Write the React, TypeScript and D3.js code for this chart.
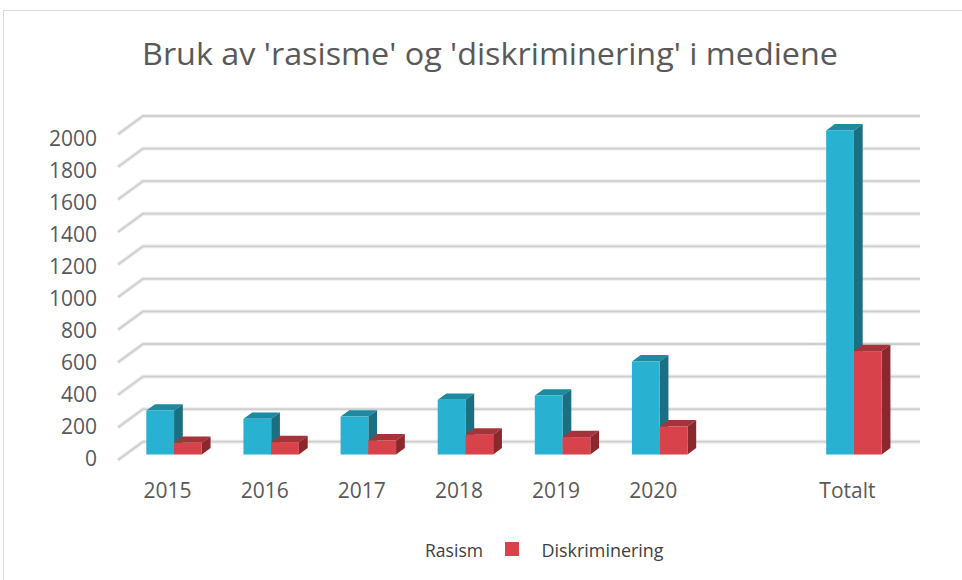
import { useEffect, useRef } from 'react';
import * as d3 from 'd3';

const categories = ['2015', '2016', '2017', '2018', '2019', '2020', '', 'Totalt'];
const series = ['Rasism', 'Diskriminering'];
const rasism = [270, 219, 233, 336, 362, 571, null, 1990];
const diskriminering = [72, 76, 86, 122, 107, 172, null, 635];
const yTicks = [0, 200, 400, 600, 800, 1000, 1200, 1400, 1600, 1800, 2000];
const title = "Bruk av 'rasisme' og 'diskriminering' i mediene";

const App = () => {
    const svgRef = useRef<SVGSVGElement>(null);

    useEffect(() => {
        const svg = d3.select(svgRef.current);
        svg.selectAll('*').remove();

        // oblique 3d: depth vector of the whole plot
        const depthX = 25, depthY = 18.3;
        const barD0 = 0.3, barD1 = 0.65;

        const xBand = d3.scaleBand().domain(categories).range([118, 895]).padding(0);
        const sub = d3.scaleBand().domain(series).range([0, xBand.bandwidth()]).paddingInner(0).paddingOuter(0.75);
        const yFront = d3.scaleLinear().domain([0, 2000]).range([460, 134.3]);
        const yLabel = d3.scaleLinear().domain([0, 2000]).range([458, 138]);

        // chart border
        svg.append('rect').attr('x', 3.5).attr('y', 10.5).attr('width', 970).attr('height', 580)
            .attr('fill', 'white').attr('stroke', '#d9d9d9').attr('stroke-width', 1);

        svg.append('text').attr('x', 490).attr('y', 65).attr('text-anchor', 'middle')
            .attr('font-family', 'Open Sans').attr('font-size', 31).attr('fill', '#595959')
            .attr('textLength', 696).attr('lengthAdjust', 'spacingAndGlyphs').text(title);

        // gridlines: left wall diagonal + back wall
        const grid = svg.append('g');
        const x0 = xBand.range()[0], x1 = xBand.range()[1];
        yTicks.forEach((v) => {
            const yf = yFront(v), yb = yFront(v) - depthY;
            const path = `M${x0},${yf}L${x0 + depthX},${yb}L${x1 + depthX},${yb}`;
            grid.append('path').attr('d', path).attr('fill', 'none').attr('stroke', '#ececec').attr('stroke-width', 4);
            grid.append('path').attr('d', path).attr('fill', 'none').attr('stroke', '#cfcfcf').attr('stroke-width', 1.8);
        });

        svg.append('g').selectAll('text').data(yTicks).enter().append('text')
            .attr('x', 97).attr('y', (d) => yLabel(d)).attr('dy', '0.36em').attr('text-anchor', 'end')
            .attr('font-family', 'Open Sans').attr('font-size', 21).attr('fill', '#595959')
            .text((d) => d);

        svg.append('g').selectAll('text').data(categories).enter().append('text')
            .attr('x', (d) => xBand(d)! + xBand.bandwidth() / 2 + 1).attr('y', 498).attr('text-anchor', 'middle')
            .attr('font-family', 'Open Sans').attr('font-size', 21).attr('fill', '#595959')
            .text((d) => d);

        const colors = {
            Rasism: { front: '#29b1d1', top: '#1d8aa1', side: '#1a7082' },
            Diskriminering: { front: '#d8434b', top: '#a4333a', side: '#8b282d' },
        };

        const bars = svg.append('g');
        const ddx = (barD1 - barD0) * depthX, ddy = (barD1 - barD0) * depthY;
        categories.forEach((cat, i) => {
            series.forEach((s) => {
                const v = s === 'Rasism' ? rasism[i] : diskriminering[i];
                if (v == null) return;
                const c = colors[s];
                const bx = xBand(cat)! + sub(s)! + barD0 * depthX;
                const w = sub.bandwidth();
                const top = yFront(v) - barD0 * depthY;
                const bottom = yFront(0) - barD0 * depthY;
                bars.append('polygon')
                    .attr('points', [[bx, top], [bx + w, top], [bx + w + ddx, top - ddy], [bx + ddx, top - ddy]].join(' '))
                    .attr('fill', c.top);
                bars.append('polygon')
                    .attr('points', [[bx + w, top], [bx + w + ddx, top - ddy], [bx + w + ddx, bottom - ddy], [bx + w, bottom]].join(' '))
                    .attr('fill', c.side);
                bars.append('rect').attr('x', bx).attr('y', top).attr('width', w).attr('height', bottom - top)
                    .attr('fill', c.front);
            });
        });

        // legend
        const legend = svg.append('g').attr('font-family', 'Open Sans').attr('font-size', 18).attr('fill', '#404040');
        legend.append('text').attr('x', 425).attr('y', 556.5).attr('textLength', 58).attr('lengthAdjust', 'spacingAndGlyphs').text(series[0]);
        legend.append('rect').attr('x', 505).attr('y', 542).attr('width', 14).attr('height', 14).attr('fill', colors.Diskriminering.front);
        legend.append('text').attr('x', 541.5).attr('y', 556.5).attr('textLength', 122).attr('lengthAdjust', 'spacingAndGlyphs').text(series[1]);
    }, []);

    return <svg ref={svgRef} width={962} height={580} style={{ position: 'absolute', left: 0, top: 0 }}></svg>;
};

export default App;
